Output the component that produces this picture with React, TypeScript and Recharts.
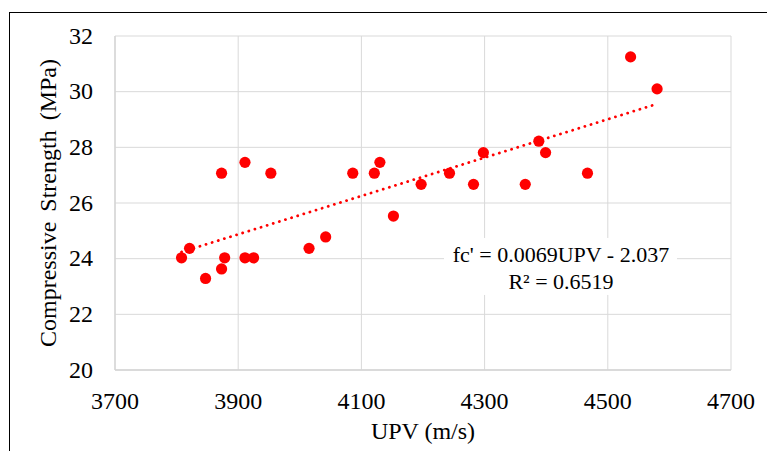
import React from 'react';
import { ScatterChart, Scatter, XAxis, YAxis, CartesianGrid, ReferenceLine, ReferenceDot } from 'recharts';

const upv = [3808, 3821, 3847, 3873, 3878, 3873, 3911, 3911, 3925, 3953, 4015, 4042, 4086, 4121, 4130, 4152, 4197, 4243, 4282, 4298, 4366, 4388, 4399, 4467, 4537, 4580];
const strength = [24.03, 24.37, 23.29, 23.63, 24.03, 27.07, 27.46, 24.03, 24.03, 27.07, 24.37, 24.78, 27.07, 27.07, 27.46, 25.53, 26.67, 27.07, 26.67, 27.81, 26.67, 28.22, 27.81, 27.07, 31.25, 30.1];

const trendX = [3808, 4580];
const trendY = [24.24, 29.56];

const xTicks = [3700, 3900, 4100, 4300, 4500, 4700];
const yTicks = [20, 22, 24, 26, 28, 30, 32];

const xTitle = 'UPV (m/s)';
const yTitle = 'Compressive Strength (MPa)';
const eqLine1 = "fc' = 0.0069UPV - 2.037";
const eqLine2 = 'R² = 0.6519';
const eqAnchor = { x: 4424, y: 23.72 };

const FONT = 'Liberation Serif';

const XTick = (p: any) => (
  <text x={p.x} y={p.y + 17.3} textAnchor="middle" fontFamily={FONT} fontSize={24} fill="#000">
    {p.payload.value}
  </text>
);

const YTick = (p: any) => (
  <text x={p.x} y={p.y + 7.8} textAnchor="end" fontFamily={FONT} fontSize={24} fill="#000">
    {p.payload.value}
  </text>
);

const renderXLabel = (props: any) => {
  const vb = props.viewBox || { x: 115, y: 370, width: 616, height: 81 };
  return (
    <text x={vb.x + vb.width / 2} y={vb.y + 68.5} textAnchor="middle" fontFamily={FONT} fontSize={24} fill="#000">
      {xTitle}
    </text>
  );
};

const renderYLabel = (props: any) => {
  const vb = props.viewBox || { x: 0, y: 36, width: 115, height: 334 };
  const x = vb.x + 56;
  const y = vb.y + vb.height / 2;
  return (
    <text x={x} y={y} transform={`rotate(-90, ${x}, ${y})`} textAnchor="middle" fontFamily={FONT} fontSize={24} fill="#000" wordSpacing={4}>
      {yTitle}
    </text>
  );
};

const renderEquation = (p: any) => {
  const cx = p.cx;
  const cy = p.cy;
  return (
    <g>
      <rect x={cx - 117} y={cy - 28.5} width={233} height={57} fill="#fff" />
      <text x={cx} y={cy - 4} textAnchor="middle" fontFamily={FONT} fontSize={22} fill="#000">{eqLine1}</text>
      <text x={cx} y={cy + 23} textAnchor="middle" fontFamily={FONT} fontSize={22} fill="#000">{eqLine2}</text>
    </g>
  );
};

const renderPoint = (p: any) => <circle cx={p.cx} cy={p.cy} r={5.6} fill="#ff0000" />;

export default function App() {
  const data = upv.map((x, i) => ({ x, y: strength[i] }));
  return (
    <div style={{ position: 'absolute', left: 0, top: 0, width: 767, height: 451, background: '#fff', overflow: 'hidden', fontFamily: FONT }}>
      <div style={{ position: 'absolute', left: 9, top: 12, width: 800, height: 500, borderTop: '1px solid #000', borderLeft: '1px solid #000' }} />
      <div style={{ position: 'absolute', left: 0, top: 0 }}>
        <ScatterChart width={767} height={451} margin={{ top: 36, right: 36, left: 0, bottom: 0 }}>
          <CartesianGrid stroke="#d9d9d9" strokeWidth={1} />
          <XAxis
            type="number"
            dataKey="x"
            domain={[3700, 4700]}
            ticks={xTicks}
            height={81}
            tickSize={0}
            tickMargin={22}
            axisLine={{ stroke: '#d4d4d4', strokeWidth: 1.3 }}
            tickLine={false}
            tick={XTick}
            label={renderXLabel}
          />
          <YAxis
            type="number"
            dataKey="y"
            domain={[20, 32]}
            ticks={yTicks}
            width={115}
            tickSize={0}
            tickMargin={22}
            axisLine={{ stroke: '#d4d4d4', strokeWidth: 1.3 }}
            tickLine={false}
            tick={YTick}
            label={renderYLabel}
          />
          <Scatter data={data} shape={renderPoint} isAnimationActive={false} />
          <ReferenceLine
            segment={[{ x: trendX[0], y: trendY[0] }, { x: trendX[1], y: trendY[1] }]}
            stroke="#ff0000"
            strokeWidth={2.8}
            strokeDasharray="0.1 6.3"
            strokeLinecap="round"
          />
          <ReferenceDot x={eqAnchor.x} y={eqAnchor.y} r={0} shape={renderEquation} />
        </ScatterChart>
      </div>
    </div>
  );
}
